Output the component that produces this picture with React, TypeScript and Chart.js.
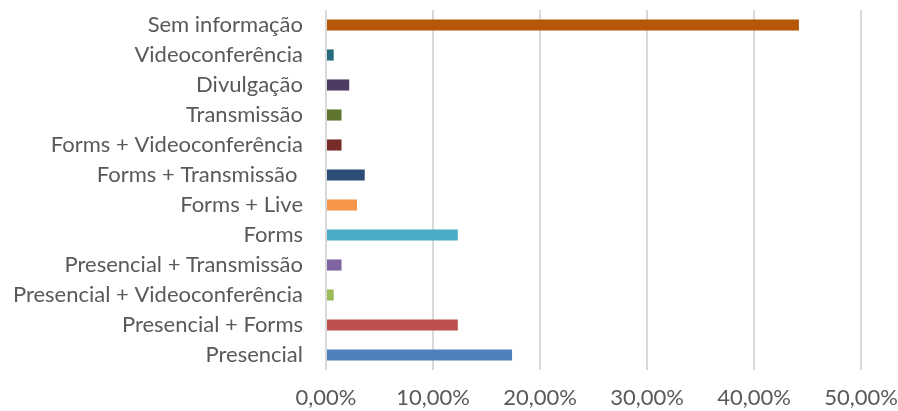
import React, { useEffect, useRef } from "react";
import { Chart, registerables } from "chart.js";

Chart.register(...registerables);

const categories = [
  "Sem informação",
  "Videoconferência",
  "Divulgação",
  "Transmissão",
  "Forms + Videoconferência",
  "Forms + Transmissão ",
  "Forms + Live",
  "Forms",
  "Presencial + Transmissão",
  "Presencial + Videoconferência",
  "Presencial + Forms",
  "Presencial",
];

const values = [44.2, 0.72, 2.17, 1.45, 1.45, 3.62, 2.9, 12.32, 1.45, 0.72, 12.32, 17.39];

const barColors = [
  "#B65708",
  "#276A7C",
  "#4D3B62",
  "#5F7530",
  "#772C2A",
  "#2C4D75",
  "#F79646",
  "#4BACC6",
  "#8064A2",
  "#9BBB59",
  "#C0504D",
  "#4F81BD",
];

const xTicks = [0, 10, 20, 30, 40, 50];

export default function App() {
  const ref = useRef<HTMLCanvasElement | null>(null);

  useEffect(() => {
    document.body.style.margin = "0";
    const canvas = ref.current;
    if (!canvas) return;
    const font = { family: "Lato, 'Open Sans', sans-serif", size: 22 };
    const chart = new Chart(canvas, {
      type: "bar",
      data: {
        labels: categories,
        datasets: [
          {
            data: values,
            backgroundColor: barColors,
            borderWidth: 0,
            barPercentage: 0.37,
            categoryPercentage: 1,
          },
        ],
      },
      options: {
        indexAxis: "y",
        responsive: false,
        animation: false,
        maintainAspectRatio: false,
        layout: { padding: { top: 10, right: 37, left: 0, bottom: 0 } },
        plugins: { legend: { display: false }, tooltip: { enabled: false } },
        scales: {
          x: {
            min: 0,
            max: 50,
            afterBuildTicks: (scale: any) => {
              scale.ticks = xTicks.map((v) => ({ value: v }));
            },
            afterFit: (scale: any) => {
              scale.height = 41;
              scale.paddingLeft = 0;
              scale.paddingRight = 0;
            },
            grid: { color: "#D9D9D9", lineWidth: 2, drawTicks: false },
            border: { display: false },
            ticks: {
              color: "#595959",
              font,
              padding: 15,
              maxRotation: 0,
              callback: (v: any) => Number(v).toFixed(2).replace(".", ",") + "%",
            },
          },
          y: {
            afterFit: (scale: any) => {
              scale.width = 326;
              scale.paddingTop = 0;
              scale.paddingBottom = 0;
            },
            grid: { display: false, drawTicks: false },
            border: { display: false },
            ticks: { color: "#595959", font, padding: 23, autoSkip: false },
          },
        },
      },
    });
    return () => chart.destroy();
  }, []);

  return (
    <div style={{ width: 898, height: 411, background: "#fff" }}>
      <canvas ref={ref} width={898} height={411} style={{ display: "block" }} />
    </div>
  );
}
